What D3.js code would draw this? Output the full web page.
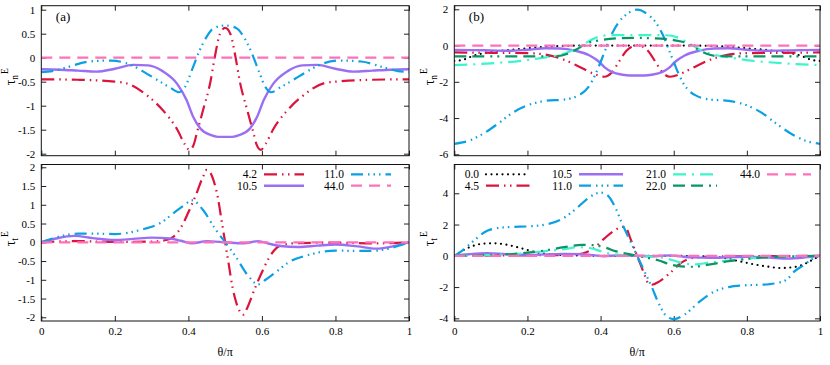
<!DOCTYPE html>
<html>
<head>
<meta charset="utf-8">
<script src="https://cdn.jsdelivr.net/npm/d3@7"></script>
<style>
  body { margin: 0; background: #fff; }
  svg text { font-family: "Liberation Serif", "Times New Roman", serif; fill: #000; }
</style>
</head>
<body>
<div id="chart"></div>
<script>
// theta/pi ticks shared by all panels
const xTicks = [0, 0.2, 0.4, 0.6, 0.8, 1];

// ---- panel (a), top: tau_n^E  [theta/pi, value]
const tauN_a_42 = [[0,-0.45],[0.1,-0.46],[0.2,-0.5],[0.23,-0.53],[0.29,-0.8],[0.33,-1.09],[0.37,-1.5],[0.39,-1.8],[0.403,-1.92],[0.415,-1.8],[0.423,-1.57],[0.44,-1.09],[0.46,-0.5],[0.472,0.02],[0.486,0.5],[0.5,0.62],[0.514,0.5],[0.528,0.02],[0.54,-0.5],[0.56,-1.09],[0.577,-1.57],[0.585,-1.8],[0.597,-1.92],[0.61,-1.8],[0.63,-1.5],[0.67,-1.09],[0.71,-0.8],[0.77,-0.53],[0.8,-0.5],[0.9,-0.46],[1,-0.45]];
const tauN_a_105 = [[0,-0.24],[0.05,-0.25],[0.1,-0.27],[0.15,-0.29],[0.2,-0.23],[0.25,-0.15],[0.29,-0.16],[0.33,-0.28],[0.37,-0.55],[0.395,-0.88],[0.413,-1.23],[0.432,-1.47],[0.46,-1.61],[0.48,-1.65],[0.5,-1.65],[0.52,-1.65],[0.54,-1.61],[0.568,-1.47],[0.587,-1.23],[0.605,-0.88],[0.63,-0.55],[0.67,-0.28],[0.71,-0.16],[0.75,-0.15],[0.8,-0.23],[0.85,-0.29],[0.9,-0.27],[0.95,-0.25],[1,-0.24]];
const tauN_a_110 = [[0,-0.3],[0.03,-0.28],[0.07,-0.2],[0.13,-0.08],[0.19,-0.06],[0.24,-0.14],[0.28,-0.3],[0.31,-0.44],[0.35,-0.62],[0.375,-0.72],[0.39,-0.62],[0.41,-0.25],[0.43,0.14],[0.45,0.44],[0.47,0.62],[0.5,0.67],[0.53,0.62],[0.55,0.44],[0.57,0.14],[0.59,-0.25],[0.61,-0.62],[0.625,-0.72],[0.65,-0.62],[0.69,-0.44],[0.72,-0.3],[0.76,-0.14],[0.81,-0.06],[0.87,-0.08],[0.93,-0.2],[0.97,-0.28],[1,-0.3]];
const tauN_a_440 = [[0,0],[1,0]];

// ---- panel (a), bottom: tau_t^E
const tauT_a_42 = [[0,0],[0.1,0.03],[0.2,0.01],[0.3,0.02],[0.34,0.06],[0.36,0.15],[0.38,0.4],[0.4,0.8],[0.42,1.25],[0.44,1.75],[0.45,1.93],[0.46,1.85],[0.47,1.6],[0.48,1.2],[0.49,0.6],[0.5,0],[0.51,-0.6],[0.52,-1.2],[0.53,-1.6],[0.54,-1.85],[0.55,-1.93],[0.56,-1.75],[0.58,-1.25],[0.6,-0.8],[0.62,-0.4],[0.64,-0.15],[0.66,-0.06],[0.7,-0.02],[0.8,-0.01],[0.9,-0.03],[1,0]];
const tauT_a_105 = [[0,0],[0.04,0.1],[0.09,0.17],[0.14,0.11],[0.2,0.06],[0.25,0.09],[0.3,0.125],[0.35,0.1],[0.38,0.04],[0.41,-0.03],[0.45,0.03],[0.5,0],[0.55,-0.03],[0.59,0.03],[0.62,-0.04],[0.65,-0.1],[0.7,-0.125],[0.75,-0.09],[0.8,-0.06],[0.86,-0.11],[0.91,-0.17],[0.96,-0.1],[1,0]];
const tauT_a_110 = [[0,0],[0.03,0.1],[0.06,0.18],[0.1,0.23],[0.15,0.23],[0.2,0.22],[0.27,0.33],[0.33,0.55],[0.36,0.78],[0.39,1.0],[0.41,1.12],[0.44,0.86],[0.47,0.4],[0.5,0],[0.53,-0.4],[0.56,-0.86],[0.59,-1.12],[0.61,-1.0],[0.64,-0.78],[0.67,-0.55],[0.73,-0.33],[0.8,-0.22],[0.85,-0.23],[0.9,-0.23],[0.94,-0.18],[0.97,-0.1],[1,0]];
const tauT_a_440 = [[0,0],[1,0]];

// ---- panel (b), top: tau_n^E
const tauN_b_00 = [[0,-0.85],[0.025,-0.78],[0.05,-0.58],[0.08,-0.42],[0.12,-0.3],[0.16,-0.22],[0.2,-0.15],[0.25,-0.07],[0.3,-0.02],[0.35,0],[0.5,0],[0.65,0],[0.7,-0.02],[0.75,-0.07],[0.8,-0.15],[0.84,-0.22],[0.88,-0.3],[0.92,-0.42],[0.95,-0.58],[0.975,-0.78],[1,-0.85]];
const tauN_b_45 = [[0,-0.38],[0.1,-0.4],[0.2,-0.42],[0.25,-0.5],[0.3,-0.78],[0.35,-1.25],[0.38,-1.55],[0.41,-1.72],[0.43,-1.5],[0.45,-0.9],[0.47,-0.3],[0.49,-0.02],[0.5,0.02],[0.51,-0.02],[0.53,-0.3],[0.55,-0.9],[0.57,-1.5],[0.59,-1.72],[0.62,-1.55],[0.65,-1.25],[0.7,-0.78],[0.75,-0.5],[0.8,-0.42],[0.9,-0.4],[1,-0.38]];
const tauN_b_105 = tauN_a_105;
const tauN_b_110 = [[0,-5.42],[0.04,-5.25],[0.08,-4.85],[0.12,-4.3],[0.16,-3.7],[0.2,-3.3],[0.25,-3.05],[0.3,-2.98],[0.34,-2.75],[0.37,-2.2],[0.39,-1.4],[0.41,-0.4],[0.43,0.6],[0.45,1.3],[0.47,1.7],[0.5,1.98],[0.53,1.7],[0.55,1.3],[0.57,0.6],[0.59,-0.4],[0.61,-1.4],[0.63,-2.2],[0.66,-2.75],[0.7,-2.98],[0.75,-3.05],[0.8,-3.3],[0.84,-3.7],[0.88,-4.3],[0.92,-4.85],[0.96,-5.25],[1,-5.42]];
const tauN_b_210 = [[0,-1.08],[0.1,-0.98],[0.2,-0.8],[0.25,-0.65],[0.3,-0.45],[0.33,-0.2],[0.36,0.15],[0.39,0.45],[0.42,0.57],[0.46,0.58],[0.5,0.58],[0.54,0.58],[0.58,0.57],[0.61,0.45],[0.64,0.15],[0.67,-0.2],[0.7,-0.45],[0.75,-0.65],[0.8,-0.8],[0.9,-0.98],[1,-1.08]];
const tauN_b_220 = [[0,-0.6],[0.1,-0.6],[0.2,-0.6],[0.28,-0.58],[0.31,-0.45],[0.335,-0.2],[0.36,0.1],[0.4,0.3],[0.45,0.4],[0.5,0.42],[0.55,0.4],[0.6,0.3],[0.64,0.1],[0.665,-0.2],[0.69,-0.45],[0.72,-0.58],[0.8,-0.6],[0.9,-0.6],[1,-0.6]];
const tauN_b_440 = [[0,0],[1,0]];

// ---- panel (b), bottom: tau_t^E
const tauT_b_00 = [[0,0],[0.02,0.3],[0.05,0.62],[0.08,0.78],[0.11,0.8],[0.14,0.72],[0.18,0.5],[0.22,0.25],[0.26,0.1],[0.3,0.05],[0.35,0.02],[0.4,0],[0.6,0],[0.65,-0.02],[0.7,-0.05],[0.74,-0.15],[0.78,-0.35],[0.82,-0.55],[0.86,-0.7],[0.89,-0.78],[0.93,-0.72],[0.96,-0.5],[0.98,-0.25],[1,0]];
const tauT_b_45 = [[0,0],[0.1,0.02],[0.2,0.03],[0.3,0.05],[0.35,0.15],[0.38,0.45],[0.41,1.1],[0.44,1.65],[0.46,1.85],[0.47,1.75],[0.48,1.2],[0.49,0.6],[0.5,0],[0.51,-0.6],[0.52,-1.2],[0.53,-1.75],[0.54,-1.85],[0.56,-1.65],[0.59,-1.1],[0.62,-0.45],[0.65,-0.15],[0.7,-0.05],[0.8,-0.03],[0.9,-0.02],[1,0]];
const tauT_b_105 = tauT_a_105;
const tauT_b_110 = [[0,0],[0.02,0.3],[0.045,0.8],[0.09,1.6],[0.12,1.78],[0.16,1.85],[0.2,1.88],[0.25,2.0],[0.29,2.3],[0.33,2.95],[0.37,3.75],[0.4,4.05],[0.42,3.85],[0.44,3.1],[0.46,2.0],[0.48,1.0],[0.5,0],[0.52,-1.0],[0.54,-2.0],[0.56,-3.1],[0.58,-3.85],[0.6,-4.05],[0.63,-3.75],[0.67,-2.95],[0.71,-2.3],[0.75,-2.0],[0.8,-1.88],[0.84,-1.85],[0.88,-1.75],[0.91,-1.5],[0.93,-1.0],[0.955,-0.6],[0.975,-0.27],[1,0]];
const tauT_b_210 = [[0,0],[0.1,0.05],[0.2,0.18],[0.25,0.3],[0.3,0.42],[0.34,0.55],[0.37,0.5],[0.4,0.3],[0.43,0.12],[0.46,0.05],[0.5,0],[0.54,-0.05],[0.57,-0.12],[0.6,-0.3],[0.63,-0.5],[0.66,-0.55],[0.7,-0.42],[0.75,-0.3],[0.8,-0.18],[0.9,-0.05],[1,0]];
const tauT_b_220 = [[0,0],[0.05,0.02],[0.1,0.05],[0.15,0.1],[0.2,0.2],[0.25,0.35],[0.3,0.55],[0.35,0.7],[0.38,0.68],[0.41,0.55],[0.44,0.3],[0.47,0.14],[0.5,0],[0.53,-0.14],[0.56,-0.3],[0.59,-0.55],[0.62,-0.68],[0.65,-0.7],[0.7,-0.55],[0.75,-0.35],[0.8,-0.2],[0.85,-0.1],[0.9,-0.05],[0.95,-0.02],[1,0]];
const tauT_b_440 = [[0,0],[1,0]];

// line look for each legend key
const lineStyle = {
  "0.0":  { color: "#000000", dash: "0,5.5", width: 2.2, cap: "round" },
  "4.2":  { color: "#dc143c", dash: "13,5,1.5,4.5,1.5,5", width: 2.2, cap: "butt" },
  "4.5":  { color: "#dc143c", dash: "13,5,1.5,4.5,1.5,5", width: 2.2, cap: "butt" },
  "10.5": { color: "#9b6ff3", dash: null, width: 2.4, cap: "butt" },
  "11.0": { color: "#0ba0e4", dash: "12,5,1.5,4,1.5,4,1.5,5", width: 2.2, cap: "butt" },
  "21.0": { color: "#3cf5cd", dash: "13,6,2,6", width: 2.2, cap: "butt" },
  "22.0": { color: "#0b9466", dash: "12,6,12,6,2,5,2,6", width: 2.2, cap: "butt" },
  "44.0": { color: "#ff70bb", dash: "11,7", width: 2.2, cap: "butt" }
};

const serif = "'Liberation Serif', 'Times New Roman', serif";

const panels = [
  { left: 41.3, right: 409, top: 5.7, bottom: 155.7, yDomain: [-2.042, 1.083],
    yTicks: [-2, -1.5, -1, -0.5, 0, 0.5, 1], xLabels: false, sub: "n", tag: "(a)", labelX: 15,
    series: [["4.2", tauN_a_42], ["10.5", tauN_a_105], ["11.0", tauN_a_110], ["44.0", tauN_a_440]] },
  { left: 41.3, right: 409, top: 164.5, bottom: 321, yDomain: [-2.099, 2.074],
    yTicks: [-2, -1.5, -1, -0.5, 0, 0.5, 1, 1.5, 2], xLabels: true, sub: "t", labelX: 15,
    series: [["4.2", tauT_a_42], ["10.5", tauT_a_105], ["11.0", tauT_a_110], ["44.0", tauT_a_440]],
    legend: { rows: 2, colX: [257, 344], lineLen: 40, y0: 174.3, dy: 11.4 } },
  { left: 454.3, right: 820, top: 5.7, bottom: 155.7, yDomain: [-6.077, 2.199],
    yTicks: [-6, -4, -2, 0, 2], xLabels: false, sub: "n", tag: "(b)", labelX: 434,
    series: [["0.0", tauN_b_00], ["4.5", tauN_b_45], ["10.5", tauN_b_105], ["11.0", tauN_b_110],
             ["21.0", tauN_b_210], ["22.0", tauN_b_220], ["44.0", tauN_b_440]] },
  { left: 454.3, right: 820, top: 164.5, bottom: 321, yDomain: [-4.17, 5.84],
    yTicks: [-4, -2, 0, 2, 4], xLabels: true, sub: "t", labelX: 434,
    series: [["0.0", tauT_b_00], ["4.5", tauT_b_45], ["10.5", tauT_b_105], ["11.0", tauT_b_110],
             ["21.0", tauT_b_210], ["22.0", tauT_b_220], ["44.0", tauT_b_440]],
    legend: { rows: 2, colX: [479, 572, 666, 760], lineLen: 44, y0: 174.3, dy: 11.4 } }
];

const svg = d3.select("#chart").append("svg")
  .attr("width", 830)
  .attr("height", 365)
  .style("font-family", serif);

const applyStyle = (sel, st) => sel
  .attr("fill", "none")
  .attr("stroke", st.color)
  .attr("stroke-width", st.width)
  .attr("stroke-linecap", st.cap)
  .attr("stroke-dasharray", st.dash);

panels.forEach((p, i) => {
  const x = d3.scaleLinear().domain([0, 1]).range([p.left, p.right]);
  const y = d3.scaleLinear().domain(p.yDomain).range([p.bottom, p.top]);
  const g = svg.append("g").attr("class", "panel");

  // inward ticks on all four sides
  g.append("g")
    .attr("transform", `translate(0, ${p.bottom})`)
    .call(d3.axisBottom(x).tickValues(xTicks).tickSizeInner(-5).tickSizeOuter(0).tickPadding(6)
      .tickFormat(p.xLabels ? (d) => String(d) : ""));
  g.append("g")
    .attr("transform", `translate(0, ${p.top})`)
    .call(d3.axisTop(x).tickValues(xTicks).tickSizeInner(-5).tickSizeOuter(0).tickFormat(""));
  g.append("g")
    .attr("transform", `translate(${p.left}, 0)`)
    .call(d3.axisLeft(y).tickValues(p.yTicks).tickSizeInner(-5).tickSizeOuter(0).tickPadding(6)
      .tickFormat((d) => String(d)));
  g.append("g")
    .attr("transform", `translate(${p.right}, 0)`)
    .call(d3.axisRight(y).tickValues(p.yTicks).tickSizeInner(-5).tickSizeOuter(0).tickFormat(""));
  g.selectAll(".domain").remove();
  g.selectAll(".tick line").attr("stroke", "#222");
  g.selectAll("g").attr("font-family", null).attr("font-size", null);
  g.selectAll(".tick text")
    .style("font-family", serif)
    .style("font-size", "11px");

  // curves
  const clipId = `clip${i}`;
  g.append("clipPath").attr("id", clipId)
    .append("rect")
    .attr("x", p.left).attr("y", p.top)
    .attr("width", p.right - p.left).attr("height", p.bottom - p.top);

  const line = d3.line()
    .x((d) => x(d[0]))
    .y((d) => y(d[1]))
    .curve(d3.curveMonotoneX);

  g.append("g").attr("clip-path", `url(#${clipId})`)
    .selectAll(".line-path")
    .data(p.series)
    .join("path")
    .attr("class", "line-path")
    .attr("d", ([key, values]) => line(values))
    .each(function ([key]) { applyStyle(d3.select(this), lineStyle[key]); });

  // frame
  g.append("rect")
    .attr("x", p.left).attr("y", p.top)
    .attr("width", p.right - p.left).attr("height", p.bottom - p.top)
    .attr("fill", "none").attr("stroke", "#111").attr("stroke-width", 1);

  // y label: tau with sub/superscript, rotated
  const cy = (p.top + p.bottom) / 2 - 4;
  const lab = g.append("text")
    .attr("transform", `translate(${p.labelX}, ${cy}) rotate(-90)`)
    .attr("text-anchor", "middle")
    .style("font-family", serif)
    .style("font-size", "14px");
  lab.append("tspan").text("τ");
  lab.append("tspan").attr("dy", 3).style("font-size", "9.5px").text(p.sub);
  lab.append("tspan").attr("dy", -10).attr("dx", 1).style("font-size", "9.5px").text("E");

  if (p.tag) {
    g.append("text")
      .attr("x", p.left + 14.5).attr("y", p.top + 15)
      .style("font-family", serif)
      .style("font-size", "13px")
      .text(p.tag);
  }

  if (p.xLabels) {
    g.append("text")
      .attr("x", (p.left + p.right) / 2).attr("y", 356)
      .attr("text-anchor", "middle")
      .style("font-family", serif)
      .style("font-size", "12px")
      .text("θ/π");
  }

  if (p.legend) {
    const lg = p.legend;
    const items = g.selectAll(".legend")
      .data(p.series)
      .join("g")
      .attr("class", "legend")
      .attr("transform", (d, k) =>
        `translate(${lg.colX[Math.floor(k / lg.rows)]}, ${lg.y0 + (k % lg.rows) * lg.dy})`);
    items.append("text")
      .attr("x", 0).attr("y", 4)
      .attr("text-anchor", "end")
      .style("font-family", serif)
      .style("font-size", "11.5px")
      .text(([key]) => key);
    items.append("line")
      .attr("x1", 7).attr("x2", 7 + lg.lineLen)
      .attr("y1", 0).attr("y2", 0)
      .each(function ([key]) { applyStyle(d3.select(this), lineStyle[key]); });
  }
});
</script>
</body>
</html>
